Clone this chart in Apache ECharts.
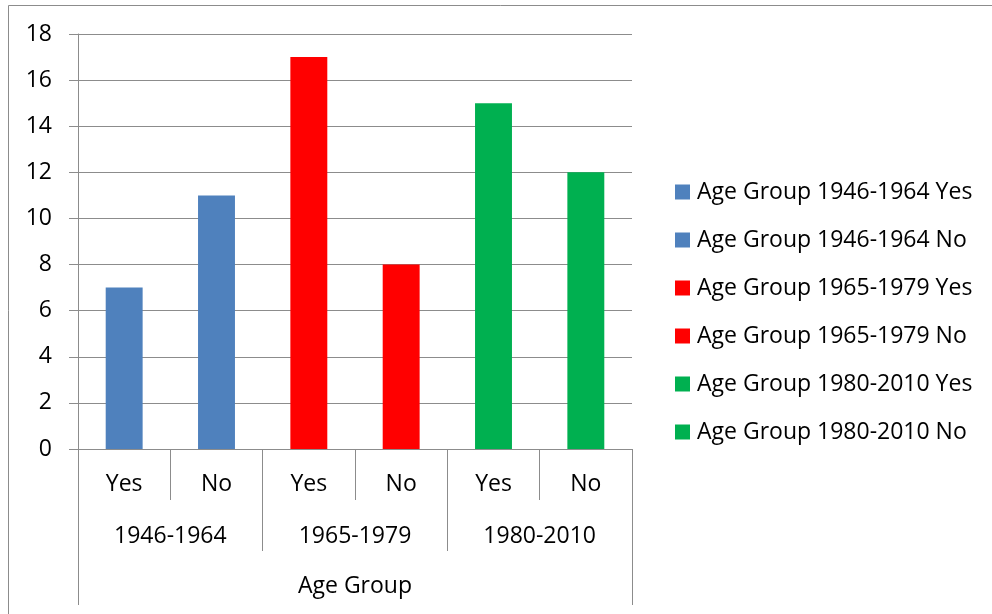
<!DOCTYPE html>
<html>
<head>
<meta charset="utf-8">
<script src="https://cdn.jsdelivr.net/npm/echarts@6/dist/echarts.min.js"></script>
<style>
  html, body { margin: 0; padding: 0; background: #fff; }
  #main { width: 992px; height: 614px; }
</style>
</head>
<body>
<div id="main"></div>
<script>
var answers = ['Yes', 'No', 'Yes', 'No', 'Yes', 'No'];
var groups = ['1946-1964', '1965-1979', '1980-2010'];
var axisTitle = ['Age Group'];
var seriesNames = [
    'Age Group 1946-1964 Yes', 'Age Group 1946-1964 No',
    'Age Group 1965-1979 Yes', 'Age Group 1965-1979 No',
    'Age Group 1980-2010 Yes', 'Age Group 1980-2010 No'
];
var values = [7, 11, 17, 8, 15, 12];
var colors = ['#4F81BD', '#4F81BD', '#FF0000', '#FF0000', '#00B050', '#00B050'];

var font = 'Open Sans';
var fontSize = 23;
var lineColor = '#8c8c8c';

var chart = echarts.init(document.getElementById('main'));

// one series per bar so the legend lists each one
var series = [];
for (var i = 0; i < values.length; i++) {
    var data = [];
    for (var j = 0; j < values.length; j++) {
        data.push(i === j ? values[i] : '-');
    }
    series.push({
        name: seriesNames[i],
        type: 'bar',
        stack: 'all',
        barWidth: '40%',
        itemStyle: { color: colors[i] },
        data: data
    });
}

function levelAxis(cats, tickLen, margin, showLine) {
    return {
        type: 'category',
        position: 'bottom',
        data: cats,
        axisLine: { show: showLine, lineStyle: { color: lineColor, width: 1 } },
        axisTick: { show: true, length: tickLen, lineStyle: { color: lineColor, width: 1 } },
        axisLabel: { margin: margin, color: '#000', fontFamily: font, fontSize: fontSize },
        splitLine: { show: false }
    };
}

var option = {
    backgroundColor: '#fff',
    animation: false,
    graphic: [{
        type: 'rect',
        shape: { x: 8.5, y: 5.5, width: 1200, height: 800 },
        style: { fill: 'none', stroke: lineColor, lineWidth: 1 },
        silent: true
    }],
    legend: {
        orient: 'vertical',
        left: 670,
        top: 175,
        itemWidth: 15,
        itemHeight: 15,
        itemGap: 24,
        icon: 'rect',
        textStyle: { color: '#000', fontFamily: font, fontSize: fontSize, lineHeight: 24, padding: [0, 0, 0, 2] },
        data: seriesNames
    },
    grid: { left: 78, right: 360, top: 34, bottom: 165 },
    xAxis: [
        levelAxis(answers, 51, 24, true),
        levelAxis(groups, 102, 76, false),
        levelAxis(axisTitle, 156, 126, false)
    ],
    yAxis: {
        type: 'value',
        min: 0,
        max: 18,
        interval: 2,
        axisLine: { show: true, lineStyle: { color: lineColor, width: 1 } },
        axisTick: { show: true, length: 9, lineStyle: { color: lineColor } },
        axisLabel: { margin: 26, color: '#000', fontFamily: font, fontSize: fontSize },
        splitLine: { show: true, lineStyle: { color: lineColor, width: 1 } }
    },
    series: series
};

chart.setOption(option);
</script>
</body>
</html>
